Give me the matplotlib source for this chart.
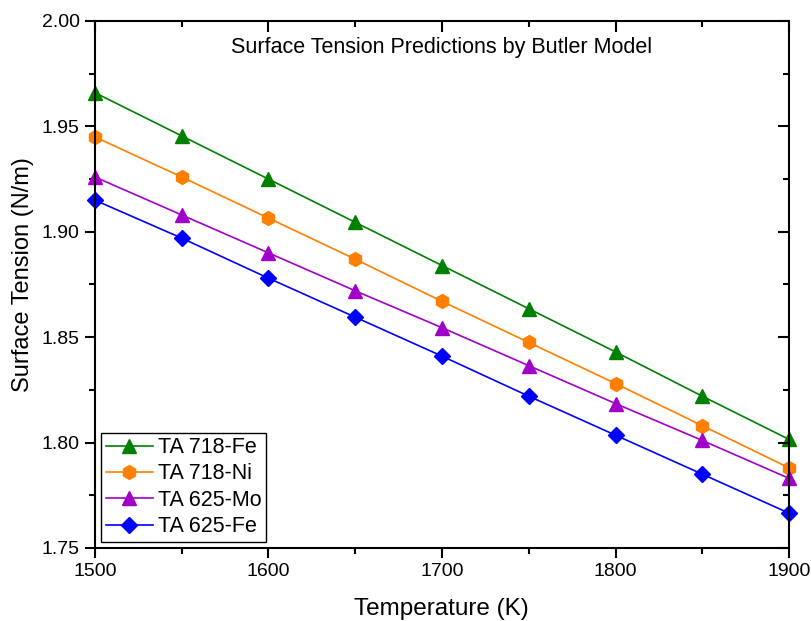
import numpy as np
import matplotlib.pyplot as plt
from matplotlib.ticker import MultipleLocator

plt.rcParams['font.family'] = ['Liberation Sans', 'DejaVu Sans']

temps = [1500, 1550, 1600, 1650, 1700, 1750, 1800, 1850, 1900]
ta718_fe = [1.966, 1.9455, 1.925, 1.9045, 1.884, 1.8635, 1.843, 1.822, 1.8015]
ta718_ni = [1.945, 1.926, 1.9065, 1.887, 1.867, 1.8475, 1.828, 1.808, 1.788]
ta625_mo = [1.926, 1.908, 1.890, 1.872, 1.8545, 1.8365, 1.8185, 1.801, 1.783]
ta625_fe = [1.915, 1.897, 1.878, 1.8595, 1.841, 1.822, 1.8035, 1.785, 1.7665]

pos = [0.117, 0.1176, 0.856, 0.8486]
fig = plt.figure(figsize=(8.11, 6.21), dpi=100)
ax = fig.add_axes(pos)

ax.plot(temps, ta718_fe, '-^', color='#008000', lw=1.2, ms=10, label='TA 718-Fe', clip_on=False)
ax.plot(temps, ta718_ni, '-h', color='#ff8000', lw=1.2, ms=10, label='TA 718-Ni', clip_on=False)
ax.plot(temps, ta625_mo, '-^', color='#a000c8', lw=1.2, ms=10, label='TA 625-Mo', clip_on=False)
ax.plot(temps, ta625_fe, '-D', color='#0000ff', lw=1.2, ms=8, label='TA 625-Fe', clip_on=False)

def set_ticks(a):
    a.set_xlim(1500, 1900)
    a.set_ylim(1.75, 2.00)
    a.xaxis.set_major_locator(MultipleLocator(100))
    a.xaxis.set_minor_locator(MultipleLocator(50))
    a.yaxis.set_major_locator(MultipleLocator(0.05))
    a.yaxis.set_minor_locator(MultipleLocator(0.025))

set_ticks(ax)
ax.yaxis.set_major_formatter(plt.FormatStrFormatter('%.2f'))
for s in ax.spines.values():
    s.set_linewidth(1.5)
ax.tick_params(which='both', direction='out', top=False, right=False, width=1.5, labelsize=14)
ax.tick_params(which='major', length=7, pad=4)
ax.tick_params(which='minor', length=4)

# overlay axes carrying the inward ticks on the top and right edges
ax2 = fig.add_axes(pos, frameon=False)
set_ticks(ax2)
ax2.tick_params(which='both', direction='in', width=1.5, top=True, right=True,
                bottom=False, left=False, labelbottom=False, labelleft=False)
ax2.tick_params(which='major', length=8)
ax2.tick_params(which='minor', length=4.5)
ax2.patch.set_visible(False)

ax.set_xlabel('Temperature (K)', fontsize=17.5)
ax.set_ylabel('Surface Tension (N/m)', fontsize=17)
ax.xaxis.set_label_coords(0.4986, -0.095)
ax.yaxis.set_label_coords(-0.087, 0.518)
ax.text(0.5, 0.95, 'Surface Tension Predictions by Butler Model', transform=ax.transAxes,
        ha='center', va='center', fontsize=15.5)

leg = ax.legend(loc='lower left', fontsize=15.5, fancybox=False, edgecolor='black',
                framealpha=1, handlelength=2.2, handletextpad=0.25, borderpad=0.2,
                labelspacing=0.25, borderaxespad=0.3)
leg.get_frame().set_linewidth(1.0)

fig.savefig('out.png', dpi=100)
